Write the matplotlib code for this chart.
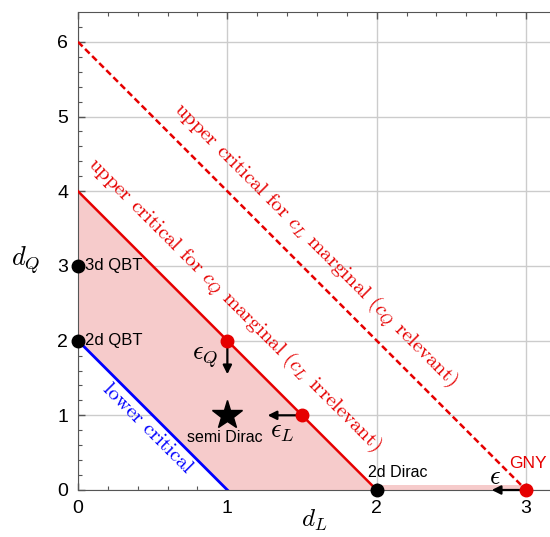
import numpy as np
import matplotlib
matplotlib.use("Agg")
import matplotlib.pyplot as plt
from matplotlib.patches import Polygon

plt.rcParams['mathtext.fontset'] = 'cm'
plt.rcParams['font.family'] = ['Liberation Sans', 'DejaVu Sans']

# region boundaries (d_L, d_Q)
lower_x = [0, 1]
lower_y = [2, 0]
upper_q_x = [0, 2]
upper_q_y = [4, 0]
upper_l_x = [0, 3]
upper_l_y = [6, 0]
region_x = [0, 0, 2, 1]
region_y = [2, 4, 0, 0]
band_x = [2, 3]
band_h = 0.065

# fixed points
black_pts_x = [0, 0, 2]
black_pts_y = [3, 2, 0]
black_labels = ['3d QBT', '2d QBT', '2d Dirac']
red_pts_x = [1, 1.5, 3]
red_pts_y = [2, 1, 0]
star_x, star_y = 1, 1

# flows (start -> end)
arrows = [((1, 2), (1, 1.55)), ((1.5, 1), (1.27, 1)), ((3, 0), (2.77, 0))]

red = '#e60000'
pink = '#f6cbcb'

fig = plt.figure(figsize=(5.5, 5.37), dpi=100)
ax = fig.add_axes([78/550, 47/537, 472/550, 478/537])

ax.add_patch(Polygon(list(zip(region_x, region_y)), closed=True, facecolor=pink, edgecolor='none', zorder=1))
ax.fill_between(band_x, 0, band_h, color=pink, lw=0, zorder=1)

ax.plot(lower_x, lower_y, color='blue', lw=2, zorder=3)
ax.plot(upper_q_x, upper_q_y, color=red, lw=1.8, zorder=3)
ax.plot(upper_l_x, upper_l_y, color=red, lw=1.8, dashes=(2.6, 1.4), zorder=3)

for (x0, y0), (x1, y1) in arrows:
    ax.annotate('', xy=(x1, y1), xytext=(x0, y0),
                arrowprops=dict(arrowstyle='-|>', color='black', lw=1.6,
                                mutation_scale=13, shrinkA=0, shrinkB=0), zorder=4)

ax.plot(black_pts_x, black_pts_y, 'o', color='black', ms=9, zorder=5, clip_on=False)
ax.plot(red_pts_x, red_pts_y, 'o', color=red, ms=9, zorder=5, clip_on=False)
ax.plot([star_x], [star_y], '*', color='black', ms=22, zorder=5)

# labels
ax.text(0.05, 3, black_labels[0], fontsize=12, va='center', ha='left')
ax.text(0.05, 2, black_labels[1], fontsize=12, va='center', ha='left')
ax.text(2.14, 0.24, black_labels[2], fontsize=11.5, va='center', ha='center')
ax.text(0.985, 0.70, 'semi Dirac', fontsize=11.5, va='center', ha='center')
ax.text(3.01, 0.36, 'GNY', fontsize=12.5, color=red, va='center', ha='center')

ax.text(2.79, 0.17, r'$\epsilon$', fontsize=19, va='center', ha='center')
ax.text(0.85, 1.77, r'$\epsilon_Q$', fontsize=19, va='center', ha='center')
ax.text(1.37, 0.78, r'$\epsilon_L$', fontsize=19, va='center', ha='center')

rot = dict(rotation=-45, rotation_mode='anchor', ha='center', va='center', family='cmr10')
ax.text(0.462, 0.82, 'lower critical', color='blue', fontsize=15, **rot)
ax.text(1.045, 2.48, r'upper critical for $c_Q$ marginal ($c_L$ irrelevant)', color=red, fontsize=15, **rot)
ax.text(1.587, 3.275, r'upper critical for $c_L$ marginal ($c_Q$ relevant)', color=red, fontsize=15, **rot)

ax.set_xlim(0, 3.16)
ax.set_ylim(0, 6.4)
ax.set_xticks([0, 1, 2, 3])
ax.set_yticks(range(7))
ax.set_xticks(np.arange(0, 3.2, 0.2), minor=True)
ax.set_yticks(np.arange(0, 6.4, 0.2), minor=True)
ax.grid(True, which='major', color='#cccccc', lw=1, zorder=0)
ax.set_axisbelow(True)
ax.tick_params(which='both', direction='in', top=True, right=False, labelsize=14, colors='#555555', labelcolor='black')
ax.tick_params(which='major', length=5, width=1, pad=7)
ax.tick_params(which='minor', length=3, width=0.8)
ax.spines['right'].set_visible(False)
for s in ['left', 'bottom', 'top']:
    ax.spines[s].set_color('#555555')

ax.set_xlabel(r'$d_L$', fontsize=18, va='center')
ax.xaxis.set_label_coords(0.5, -0.064)
ax.set_ylabel(r'$d_Q$', fontsize=19, rotation=0, va='center', ha='center')
ax.yaxis.set_label_coords(-0.110, 0.481)

fig.savefig('out.png', dpi=100)
